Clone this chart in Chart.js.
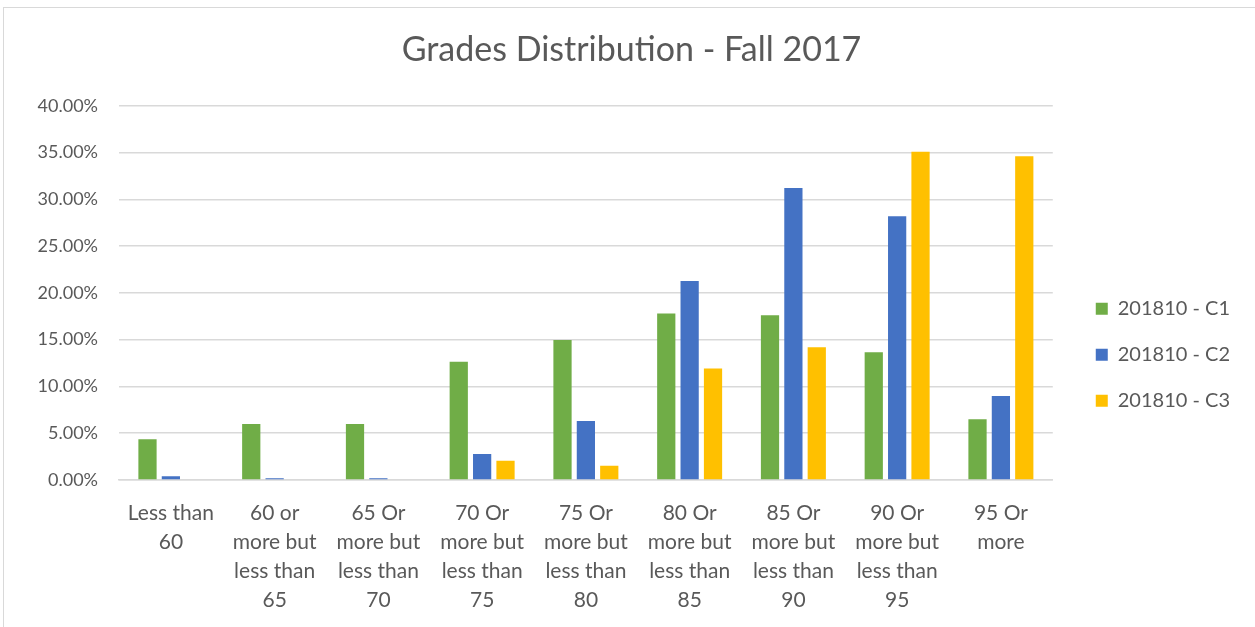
<!DOCTYPE html>
<html>
<head>
<meta charset="utf-8">
<script src="https://cdn.jsdelivr.net/npm/chart.js@4.4.0/dist/chart.umd.min.js"></script>
<style>
  html, body { margin: 0; padding: 0; background: #fff; overflow: hidden; }
  .frame { position: absolute; left: 3px; top: 7px; width: 1280px; height: 660px; border: 1px solid #d9d9d9; }
  .holder { position: absolute; left: 0; top: 0; width: 1255px; height: 627px; }
</style>
</head>
<body>
<div class="frame"></div>
<div class="holder"><canvas id="myChart" width="1255" height="627"></canvas></div>
<script>
const categories = [
  ['Less than', '60'],
  ['60 or', 'more but', 'less than', '65'],
  ['65 Or', 'more but', 'less than', '70'],
  ['70 Or', 'more but', 'less than', '75'],
  ['75 Or', 'more but', 'less than', '80'],
  ['80 Or', 'more but', 'less than', '85'],
  ['85 Or', 'more but', 'less than', '90'],
  ['90 Or', 'more but', 'less than', '95'],
  ['95 Or', 'more']
]
const seriesNames = ['201810 - C1', '201810 - C2', '201810 - C3']
const c1Values = [4.35, 5.98, 5.98, 12.64, 14.96, 17.8, 17.6, 13.65, 6.5]
const c2Values = [0.4, 0.2, 0.2, 2.78, 6.3, 21.26, 31.2, 28.2, 8.97]
const c3Values = [0, 0, 0, 2.06, 1.53, 11.93, 14.2, 35.1, 34.6]
const yTicks = [0, 5, 10, 15, 20, 25, 30, 35, 40]

const textGrey = '#595959'
const gridGrey = '#d9d9d9'

const ctx = document.getElementById('myChart').getContext('2d');
const myChart = new Chart(ctx, {
  type: 'bar',
  data: {
    labels: categories,
    datasets: [
      { label: seriesNames[0], data: c1Values, backgroundColor: '#70ad47' },
      { label: seriesNames[1], data: c2Values, backgroundColor: '#4472c4' },
      { label: seriesNames[2], data: c3Values, backgroundColor: '#ffc000' }
    ]
  },
  options: {
    responsive: false,
    animation: false,
    categoryPercentage: 0.676,
    barPercentage: 0.78,
    layout: {
      padding: { left: 23, right: 15, top: 0, bottom: 0 }
    },
    plugins: {
      title: {
        display: true,
        text: 'Grades Distribution - Fall 2017',
        color: textGrey,
        font: { family: 'Lato', size: 34, weight: 'normal', lineHeight: 1.2 },
        padding: { top: 30, bottom: 35 }
      },
      legend: {
        position: 'right',
        // empty title only pushes the entries down to the reference height
        title: { display: true, text: '', font: { size: 12 }, padding: { top: 0, bottom: 68 } },
        labels: {
          color: textGrey,
          font: { family: 'Lato', size: 20 },
          boxWidth: 12,
          boxHeight: 12,
          padding: 26
        }
      },
      tooltip: { enabled: false }
    },
    scales: {
      x: {
        grid: { display: false, drawTicks: false },
        border: { display: true, color: gridGrey, width: 1.5 },
        ticks: {
          color: textGrey,
          font: { family: 'Lato', size: 21, lineHeight: 1.38 },
          padding: 19,
          maxRotation: 0,
          autoSkip: false
        },
        afterFit: function (scale) { scale.height = 147 }
      },
      y: {
        min: 0,
        max: 40,
        afterBuildTicks: function (scale) {
          scale.ticks = yTicks.map(v => ({ value: v }))
        },
        grid: { color: gridGrey, lineWidth: 1.5, drawTicks: false },
        border: { display: false },
        ticks: {
          color: textGrey,
          font: { family: 'Lato', size: 18 },
          padding: 21,
          callback: v => v.toFixed(2) + '%'
        },
        afterFit: function (scale) { scale.width = 96 }
      },
      // blank spacer between plot and legend
      gap: {
        position: 'right',
        min: 0,
        max: 40,
        grid: { display: false, drawTicks: false },
        border: { display: false },
        ticks: { display: false },
        afterFit: function (scale) { scale.width = 17 }
      }
    }
  }
});
</script>
</body>
</html>
